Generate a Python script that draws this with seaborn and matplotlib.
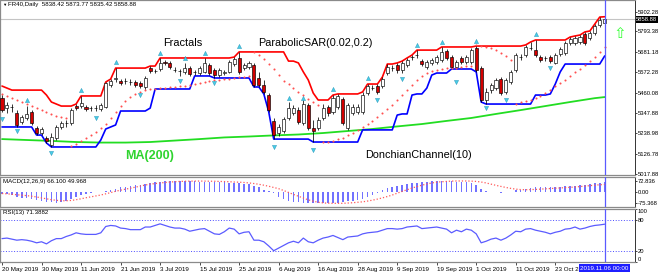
import numpy as np
import pandas as pd
import matplotlib
matplotlib.use("Agg")
import matplotlib.pyplot as plt
import matplotlib.transforms as mtransforms
import seaborn as sns

# ---------------- data ----------------
title_text = "FR40,Daily  5838.42 5873.77 5835.42 5858.88"

open_ = [5431, 5376, 5382, 5349, 5300, 5322, 5355, 5267, 5240, 5213,
         5175, 5213, 5273, 5295, 5295, 5387, 5387, 5382, 5376, 5376,
         5371, 5382, 5502, 5534, 5524, 5524, 5518, 5518, 5513, 5491,
         5594, 5578, 5589, 5627, 5622, 5583, 5578, 5573, 5594, 5573,
         5567, 5573, 5611, 5583, 5556, 5567, 5573, 5616, 5649, 5594,
         5600, 5611, 5540, 5502, 5447, 5306, 5240, 5251, 5322, 5349,
         5365, 5295, 5393, 5267, 5267, 5322, 5382, 5355, 5382, 5425,
         5267, 5349, 5355, 5355, 5458, 5485, 5496, 5496, 5567, 5594,
         5611, 5583, 5611, 5654, 5665, 5632, 5600, 5622, 5627, 5638,
         5687, 5654, 5600, 5649, 5627, 5627, 5703, 5594, 5420, 5474,
         5485, 5534, 5464, 5518, 5583, 5654, 5665, 5703, 5692, 5654,
         5649, 5654, 5622, 5671, 5676, 5731, 5731, 5736, 5780, 5758,
         5785, 5829, 5838.42]
close = [5365, 5393, 5380, 5284, 5327, 5344, 5295, 5240, 5262, 5197,
         5218, 5273, 5295, 5297, 5365, 5376, 5404, 5371, 5377, 5375,
         5393, 5513, 5524, 5540, 5513, 5523, 5519, 5502, 5496, 5540,
         5578, 5577, 5622, 5622, 5600, 5582, 5579, 5594, 5562, 5572,
         5594, 5622, 5567, 5556, 5583, 5573, 5627, 5643, 5573, 5611,
         5622, 5502, 5502, 5464, 5365, 5229, 5273, 5316, 5376, 5376,
         5300, 5398, 5267, 5251, 5311, 5376, 5349, 5431, 5442, 5295,
         5393, 5382, 5382, 5447, 5496, 5486, 5464, 5534, 5600, 5593,
         5583, 5622, 5638, 5655, 5664, 5616, 5627, 5638, 5654, 5682,
         5649, 5600, 5627, 5627, 5654, 5692, 5583, 5420, 5464, 5502,
         5529, 5458, 5529, 5573, 5665, 5655, 5709, 5702, 5665, 5638,
         5650, 5632, 5665, 5698, 5731, 5752, 5758, 5763, 5731, 5785,
         5823, 5856, 5858.88]
high = [5447, 5409, 5398, 5365, 5338, 5387, 5365, 5278, 5273, 5224,
        5240, 5284, 5306, 5311, 5376, 5398, 5442, 5393, 5387, 5393,
        5404, 5518, 5534, 5594, 5534, 5540, 5534, 5529, 5524, 5551,
        5605, 5589, 5649, 5638, 5632, 5600, 5589, 5622, 5605, 5583,
        5605, 5649, 5622, 5594, 5594, 5583, 5638, 5654, 5682, 5622,
        5632, 5622, 5573, 5529, 5458, 5322, 5289, 5327, 5409, 5393,
        5382, 5420, 5404, 5311, 5327, 5398, 5393, 5447, 5453, 5436,
        5404, 5398, 5398, 5464, 5507, 5502, 5507, 5545, 5616, 5611,
        5622, 5632, 5649, 5665, 5692, 5643, 5638, 5649, 5665, 5709,
        5698, 5665, 5638, 5660, 5665, 5703, 5714, 5605, 5485, 5513,
        5540, 5545, 5540, 5583, 5676, 5671, 5720, 5736, 5747, 5665,
        5660, 5665, 5676, 5709, 5742, 5763, 5769, 5774, 5791, 5796,
        5834, 5872, 5873.77]
low = [5355, 5349, 5355, 5273, 5289, 5311, 5284, 5229, 5229, 5186,
       5164, 5202, 5262, 5273, 5284, 5365, 5376, 5360, 5360, 5360,
       5360, 5376, 5491, 5518, 5502, 5507, 5502, 5491, 5485, 5480,
       5567, 5567, 5578, 5611, 5589, 5573, 5551, 5562, 5551, 5556,
       5556, 5567, 5556, 5540, 5545, 5556, 5567, 5605, 5562, 5583,
       5589, 5491, 5491, 5453, 5355, 5207, 5224, 5240, 5311, 5338,
       5289, 5284, 5257, 5191, 5257, 5311, 5333, 5344, 5371, 5284,
       5257, 5338, 5344, 5344, 5447, 5474, 5453, 5485, 5556, 5578,
       5567, 5567, 5600, 5638, 5649, 5605, 5589, 5611, 5616, 5627,
       5638, 5600, 5600, 5616, 5616, 5616, 5573, 5409, 5398, 5458,
       5474, 5447, 5453, 5507, 5573, 5638, 5654, 5692, 5654, 5627,
       5632, 5622, 5616, 5660, 5665, 5720, 5720, 5725, 5720, 5747,
       5774, 5818, 5835.42]
# nine sessions before the first visible bar (only feed the Donchian channel)
lead_high = [5496, 5485, 5464, 5447, 5436, 5420, 5431, 5453, 5474]
lead_low = [5338, 5355, 5322, 5311, 5300, 5316, 5289, 5273, 5306]

sar = [5453, 5442, 5431, 5420, 5409, 5398, 5387, 5376, 5365, 5355,
       5344, 5333, 5327, 5322, 5169, 5180, 5197, 5213, 5229, 5246,
       5267, 5289, 5322, 5355, 5387, 5415, 5436, 5453, 5464, 5474,
       5480, 5480, 5485, 5485, 5491, 5491, 5496, 5496, 5502, 5507,
       5513, 5518, 5524, 5529, 5529, 5534, 5534, 5540, 5545, 5545,
       5551, 5682, 5665, 5643, 5616, 5589, 5556, 5524, 5507, 5485,
       5464, 5447, 5425, 5409, 5393, 5191, 5191, 5197, 5207, 5213,
       5229, 5240, 5257, 5273, 5289, 5306, 5327, 5349, 5371, 5393,
       5420, 5447, 5474, 5502, 5529, 5551, 5567, 5578, 5583, 5589,
       5594, 5594, 5594, 5600, 5603, 5605, 5720, 5716, 5710, 5703,
       5690, 5675, 5658, 5640, 5398, 5409, 5415, 5420, 5431, 5442,
       5458, 5474, 5496, 5513, 5529, 5551, 5573, 5589, 5611, 5632,
       5654, 5682, 5709]

ma200_idx = [0, 5, 10, 15, 20, 25, 30, 35, 40, 45, 50, 55, 60, 65, 70,
             75, 80, 85, 90, 95, 100, 105, 110, 115, 120, 122]
ma200 = [5207, 5202, 5197, 5191, 5188, 5188, 5191, 5199, 5207, 5216, 5221,
         5227, 5232, 5240, 5251, 5262, 5276, 5289, 5306, 5322, 5344, 5365,
         5387, 5409, 5430, 5436]

frac_up_idx = [5, 16, 23, 32, 37, 41, 48, 58, 61, 67, 74, 84, 89, 96, 108]
frac_up_val = [5420, 5474, 5627, 5676, 5649, 5676, 5714, 5431, 5431, 5480,
               5540, 5720, 5736, 5742, 5780]
frac_dn_idx = [0, 3, 10, 19, 28, 36, 43, 55, 63, 76, 81, 92, 98, 102, 111]
frac_dn_val = [5316, 5251, 5131, 5322, 5447, 5524, 5513, 5164, 5147, 5420,
               5534, 5518, 5376, 5420, 5594]

macd_main = [-12, -16, -22, -30, -38, -42, -47, -53, -58, -64,
             -69, -70, -66, -60, -46, -32, -20, -10, -4, -1,
             1, 6, 14, 22, 30, 36, 42, 46, 49, 53,
             58, 63, 67, 70, 72, 72.836, 72, 71, 70, 70,
             69, 68, 67, 66, 65, 63, 62, 60, 57, 54,
             50, 42, 30, 14, 4, -6, -30, -45, -58, -64,
             -68, -71, -73, -75, -75.368, -75, -75, -73, -70, -66,
             -62, -57, -51, -44, -33, -18, -5, 11, 28, 35,
             40, 47, 53, 58, 62, 65, 68, 70, 72, 72.5,
             72, 70, 68, 66, 64, 60, 45, 22, 6, 2,
             -3, -5, -3, 2, 10, 16, 22, 28, 32, 34,
             34, 34, 34, 35, 37, 39, 41, 45, 48, 52,
             57, 62, 66.1]
macd_signal = [-10, -12, -15, -18, -21, -24, -28, -33, -39, -45,
               -51, -55, -58, -58, -56, -51, -45, -38, -32, -26,
               -20, -12, -4, 5, 12, 19, 25, 32, 39, 46,
               52, 56, 60, 63, 66, 68, 70, 71, 72, 72,
               72.5, 72, 71.5, 71, 70, 69, 68, 66, 65, 63,
               60, 56, 51, 45, 38, 30, 22, 10, -3, -16,
               -28, -40, -52, -61, -68, -72, -74, -75, -75, -75,
               -73, -71, -68, -65, -60, -54, -47, -39, -30, -20,
               -8, 4, 15, 26, 36, 45, 53, 60, 65, 68,
               70, 72, 73, 73, 73, 72, 70, 66, 60, 52,
               44, 37, 30, 24, 19, 16, 15, 16, 17, 19,
               21, 23, 25, 27, 29, 31, 33, 36, 39, 42,
               45, 48, 49.968]
rsi = [44, 45, 43, 41, 42, 41, 39, 36, 38, 34,
       40, 44, 44, 48, 51, 55, 53, 52, 52, 52,
       55, 67, 69, 68, 64, 63, 61, 61, 61, 66,
       66, 69, 72, 69, 66, 64, 64, 62, 58, 60,
       62, 63, 58, 53, 52, 57, 64, 62, 53, 56,
       57, 41, 41, 38, 30, 21, 26, 31, 36, 39,
       36, 45, 38, 36, 41, 45, 47, 50, 46, 42,
       47, 48, 49, 53, 55, 56, 57, 60, 63, 63,
       62, 63, 66, 67, 68, 63, 64, 65, 66, 64,
       62, 55, 60, 57, 62, 60, 53, 36, 39, 43,
       45, 41, 45, 51, 58, 57, 62, 63, 60, 58,
       56, 53, 56, 58, 62, 63, 66, 62, 64, 67,
       69, 70, 71.3882]

price_ticks = [5902.28, 5793.38, 5681.18, 5572.28, 5460.08, 5347.88,
               5238.98, 5126.78, 5017.88]
last_price = 5858.88
macd_ticks = [72.836, 0.0, -75.368]
macd_tick_labels = ["72.836", "0.00", "-75.368"]
rsi_ticks = [100, 80, 20, 0]
rsi_levels = [80, 20]
date_labels = ["20 May 2019", "30 May 2019", "11 Jun 2019", "21 Jun 2019",
               "3 Jul 2019", "15 Jul 2019", "25 Jul 2019", "6 Aug 2019",
               "16 Aug 2019", "28 Aug 2019", "9 Sep 2019", "19 Sep 2019",
               "1 Oct 2019", "11 Oct 2019", "23 Oct 2019"]
last_date_label = "2019.11.06 00:00"

# ---------------- derived ----------------
n = len(close)
x = np.arange(n)
dates = pd.bdate_range("2019-05-20", periods=n)
tick_pos = dates.get_indexer(pd.to_datetime(date_labels, format="%d %b %Y"))

hi_all = pd.Series(lead_high + high, dtype=float)
lo_all = pd.Series(lead_low + low, dtype=float)
don_up = hi_all.rolling(10).max().to_numpy()[len(lead_high):]
don_lo = lo_all.rolling(10).min().to_numpy()[len(lead_low):]

o = np.array(open_, float); c = np.array(close, float)
h = np.array(high, float); l = np.array(low, float)

# ---------------- style ----------------
sns.set_theme(style="white")
plt.rcParams['font.family'] = ['Liberation Sans', 'DejaVu Sans']

W, H = 660, 276
fig = plt.figure(figsize=(W / 100, H / 100), dpi=100)
fig.patch.set_facecolor("white")


def rect(top, bottom):
    return [0.0, 1 - bottom / H, 635 / W, (bottom - top) / H]


ax = fig.add_axes(rect(0, 175))
ax2 = fig.add_axes(rect(177, 207), sharex=ax)
ax3 = fig.add_axes(rect(209, 262), sharex=ax)

FS = 4.25
for a in (ax, ax2, ax3):
    a.set_facecolor("white")
    for s in a.spines.values():
        s.set_color("#8a8a8a")
        s.set_linewidth(0.9)
    a.spines['right'].set_color("#333333")
    a.spines['right'].set_linewidth(0.7)
    a.yaxis.tick_right()
    a.tick_params(axis='y', right=True, left=False, length=1.5, width=0.5,
                  labelsize=FS, pad=0.6, colors="black")
    a.set_xlabel(""); a.set_ylabel("")

ax.set_xlim(-0.405, 128.14)

# ---------------- main price panel ----------------
ax.axhline(last_price, color="#c4c4c4", lw=0.8, zorder=1)
sns.lineplot(x=ma200_idx, y=ma200, ax=ax, color="#22dd22", lw=1.3, zorder=2)
sns.lineplot(x=x, y=don_up, ax=ax, color="#ff0000", lw=1.2, zorder=2)
sns.lineplot(x=x, y=don_lo, ax=ax, color="#0000ff", lw=1.2, zorder=2)
sns.scatterplot(x=x, y=sar, ax=ax, color="#ff5050", s=2.2, linewidth=0,
                zorder=2.5, legend=False)

ax.vlines(x, l, h, color="black", lw=0.55, zorder=3)
body_lo = np.minimum(o, c)
body_h = np.maximum(np.abs(c - o), 0.8)
ax.bar(x, body_h, bottom=body_lo, width=0.62,
       color=np.where(c >= o, "white", "#d40000"),
       edgecolor="black", linewidth=0.45, zorder=4)

sns.scatterplot(x=frac_up_idx, y=frac_up_val, ax=ax, marker="^", s=9,
                color="#48cde6", edgecolor="#1b8fb5", linewidth=0.3,
                zorder=5, legend=False)
sns.scatterplot(x=frac_dn_idx, y=frac_dn_val, ax=ax, marker="v", s=9,
                color="#48cde6", edgecolor="#1b8fb5", linewidth=0.3,
                zorder=5, legend=False)

ax.set_ylim(5011.25, 5965)
ax.set_yticks(price_ticks)
ax.set_yticklabels([f"{v:.2f}" for v in price_ticks])
ax.tick_params(axis='x', bottom=False, labelbottom=False)

ax.text(0.004, 0.972, "▼", transform=ax.transAxes, fontsize=3.2,
        va="center", ha="left", color="black")
ax.text(0.0126, 0.972, title_text, transform=ax.transAxes, fontsize=4.4,
        va="center", ha="left", color="black")
ax.text(36.6, 5731, "Fractals", fontsize=7.9, ha="center", va="center",
        color="black", zorder=6)
ax.text(51.8, 5731, "ParabolicSAR(0.02,0.2)", fontsize=7.8, ha="left",
        va="center", color="black", zorder=6)
ax.text(73.5, 5120, "DonchianChannel(10)", fontsize=7.8, ha="left",
        va="center", color="black", zorder=6)
ax.text(24.9, 5115, "MA(200)", fontsize=9, fontweight="bold", ha="left",
        va="center", color="#2fd42f", zorder=6)
ax.text(125.1, 5785, "⇧", fontsize=11, ha="center", va="center",
        color="#33ff33", family=["DejaVu Sans"], zorder=6)

bt = mtransforms.blended_transform_factory(ax.transAxes, ax.transData)
ax.text(1.002, last_price, f"{last_price:.2f}", transform=bt, ha="left",
        va="center", fontsize=FS, color="white", clip_on=False, zorder=10,
        bbox=dict(boxstyle="square,pad=0.12", fc="black", ec="none"))

# ---------------- MACD panel ----------------
ax2.bar(x, macd_main, width=0.32, color="#7272ff", linewidth=0, zorder=2)
sns.lineplot(x=x, y=macd_signal, ax=ax2, color="#ff5a5a", lw=0.9,
             linestyle=(0, (1, 1.6)), zorder=3)
ax2.set_ylim(-99.3, 99.3)
ax2.set_yticks(macd_ticks)
ax2.set_yticklabels(macd_tick_labels)
ax2.tick_params(axis='x', bottom=False, labelbottom=False)
ax2.text(0.005, 0.86, "MACD(12,26,9) 66.100 49.968", transform=ax2.transAxes,
         fontsize=4.4, va="center", ha="left", color="black")

# ---------------- RSI panel ----------------
for lv in rsi_levels:
    ax3.axhline(lv, color="#4a4aff", lw=0.7, linestyle=(0, (1, 1.8)))
sns.lineplot(x=x, y=rsi, ax=ax3, color="#5b5bff", lw=0.9, zorder=3)
ax3.set_ylim(-0.4, 100.2)
ax3.set_yticks(rsi_ticks)
ax3.set_yticklabels([str(v) for v in rsi_ticks])
yl = ax3.get_yticklabels()
yl[0].set_va("top")
yl[-1].set_va("bottom")
ax3.text(0.005, 0.925, "RSI(13) 71.3882", transform=ax3.transAxes,
         fontsize=4.4, va="center", ha="left", color="black")

ax3.set_xticks(tick_pos)
ax3.set_xticklabels(date_labels, ha="left")
ax3.tick_params(axis='x', bottom=True, length=2, width=0.5, labelsize=4.5,
                pad=1.5, colors="black")
ax3.set_xlim(-0.405, 128.14)

# marker of the last bar across panels
for a in (ax, ax2, ax3):
    a.axvline(n - 1, color="#5a5aff", lw=0.9, zorder=6)

bx = mtransforms.blended_transform_factory(ax3.transData, ax3.transAxes)
ax3.text(n - 1, -0.115, last_date_label, transform=bx, ha="center",
         va="center", fontsize=4.5, color="white", clip_on=False, zorder=10,
         bbox=dict(boxstyle="square,pad=0.2", fc="#1f1fff", ec="none"))

fig.savefig("out.png", dpi=100, facecolor="white")
